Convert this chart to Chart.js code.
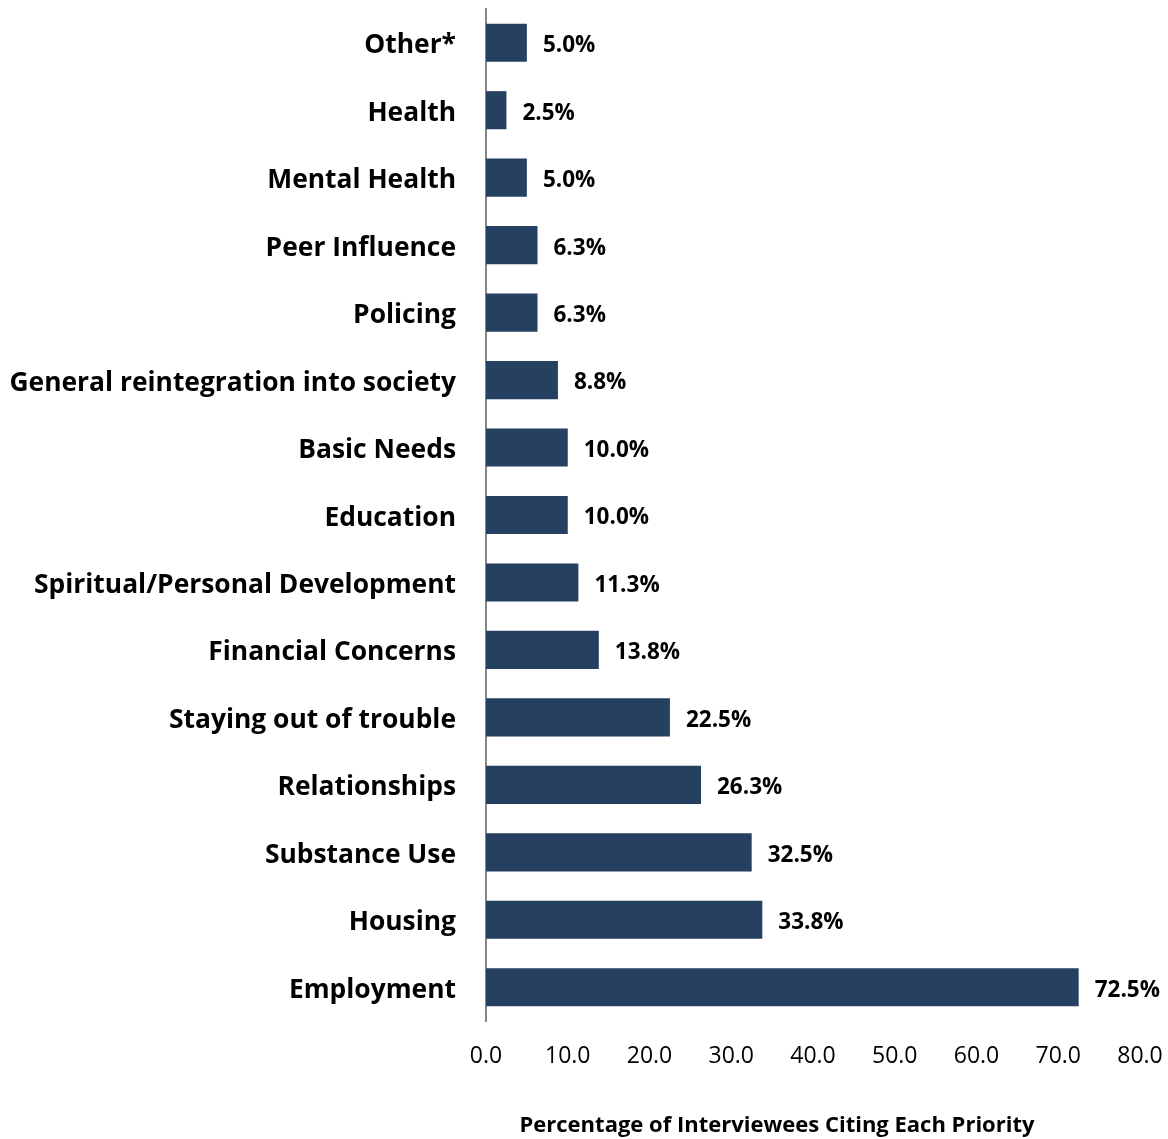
<!DOCTYPE html>
<html>
<head>
<meta charset="utf-8">
<script src="https://cdn.jsdelivr.net/npm/chart.js@4.4.1/dist/chart.umd.min.js"></script>
<style>
  html, body { margin: 0; padding: 0; background: #fff; }
  #wrap { width: 1168px; height: 1139px; position: relative; }
</style>
</head>
<body>
<div id="wrap"><canvas id="chart" width="1168" height="1139"></canvas></div>
<script>
// --- Data ---
const categories = [
  'Other*', 'Health', 'Mental Health', 'Peer Influence', 'Policing',
  'General reintegration into society', 'Basic Needs', 'Education',
  'Spiritual/Personal Development', 'Financial Concerns',
  'Staying out of trouble', 'Relationships', 'Substance Use', 'Housing', 'Employment'
];
const percentages = [5.0, 2.5, 5.0, 6.3, 6.3, 8.8, 10.0, 10.0, 11.3, 13.8, 22.5, 26.3, 32.5, 33.8, 72.5];
const xTicks = [0, 10, 20, 30, 40, 50, 60, 70, 80];
const axisTitle = 'Percentage of Interviewees Citing Each Priority';

const FONT = '"Open Sans", "DejaVu Sans", sans-serif';
const BAR_COLOR = '#264061';

// --- Plugin: value labels at bar ends + axis title ---
const barLabels = {
  id: 'barLabels',
  afterDatasetsDraw(chart) {
    const ctx = chart.ctx;
    const meta = chart.getDatasetMeta(0);
    ctx.save();
    ctx.font = 'bold 22.5px ' + FONT;
    ctx.fillStyle = '#000';
    ctx.textAlign = 'left';
    ctx.textBaseline = 'middle';
    meta.data.forEach((bar, i) => {
      ctx.fillText(percentages[i].toFixed(1) + '%', bar.x + 16, bar.y + 3);
    });
    // axis title
    ctx.font = 'bold 22px ' + FONT;
    ctx.textAlign = 'center';
    ctx.fillText(axisTitle, 777, 1126);
    ctx.restore();
  }
};

new Chart(document.getElementById('chart'), {
  type: 'bar',
  data: {
    labels: categories,
    datasets: [{
      data: percentages,
      backgroundColor: BAR_COLOR,
      borderWidth: 0,
      barPercentage: 0.565,
      categoryPercentage: 1.0
    }]
  },
  options: {
    indexAxis: 'y',
    responsive: false,
    animation: false,
    layout: { padding: { top: 9, right: 28, left: 0, bottom: 0 } },
    plugins: {
      legend: { display: false },
      tooltip: { enabled: false }
    },
    scales: {
      x: {
        min: 0,
        max: 80,
        afterFit(scale) {
          scale.height = 118;
          scale.paddingLeft = 0;
          scale.paddingRight = 0;
        },
        afterBuildTicks(scale) { scale.ticks = xTicks.map(v => ({ value: v })); },
        grid: { display: false, drawTicks: false },
        border: { display: false },
        ticks: {
          padding: 22,
          color: '#000',
          font: { family: FONT, size: 23 },
          callback: v => Number(v).toFixed(1)
        }
      },
      y: {
        afterFit(scale) {
          scale.width = 486;
          scale.paddingTop = 0;
          scale.paddingBottom = 0;
        },
        grid: { display: false, drawTicks: false },
        border: { display: true, color: '#868686', width: 2 },
        ticks: {
          padding: 30,
          labelOffset: 3,
          color: '#000',
          font: { family: FONT, size: 26.4, weight: 'bold' }
        }
      }
    }
  },
  plugins: [barLabels]
});
</script>
</body>
</html>
